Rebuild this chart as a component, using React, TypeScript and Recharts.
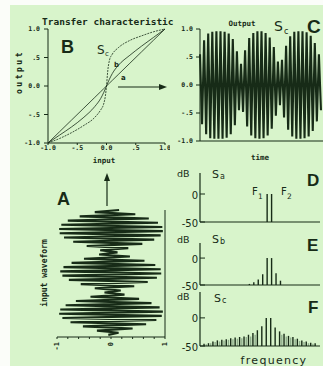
import React from "react";
import { LineChart, Line, BarChart, Bar, Cell, XAxis, YAxis } from "recharts";

const INK = "#172b17";
const FAINT = "#8fae8c";
const PAPER = "#d8f4cb";
const MONO = "'DejaVu Sans Mono', monospace";
const BOLD = "'Liberation Sans', Arial, sans-serif";
const HAND = "'DejaVu Sans', sans-serif";

// B: transfer characteristics, input -> output, for curves a, b, c
const transferIn = [-1, -0.8, -0.6, -0.4, -0.2, -0.1, -0.05, -0.02, 0, 0.02, 0.05, 0.1, 0.2, 0.4, 0.6, 0.8, 1];
const transferA = [-1, -0.8, -0.6, -0.4, -0.2, -0.1, -0.05, -0.02, 0, 0.02, 0.05, 0.1, 0.2, 0.4, 0.6, 0.8, 1];
const transferB = [-1, -0.86, -0.72, -0.56, -0.36, -0.22, -0.12, -0.05, 0, 0.05, 0.12, 0.22, 0.36, 0.54, 0.7, 0.85, 1];
const transferC = [-1, -0.92, -0.82, -0.7, -0.55, -0.42, -0.32, -0.18, 0, 0.25, 0.45, 0.56, 0.67, 0.8, 0.88, 0.95, 1];

// A: two-tone input, successive half-cycle peaks
const inputPeaks = [
  0.15, -0.3, 0.45, -0.58, 0.7, -0.8, 0.87, -0.92, 0.95, -0.96,
  0.96, -0.95, 0.92, -0.87, 0.8, -0.7, 0.58, -0.45, 0.32, -0.2,
  0.12, -0.22, 0.35, -0.5, 0.62, -0.73, 0.82, -0.88, 0.92, -0.94,
  0.93, -0.9, 0.85, -0.78, 0.68, -0.56, 0.43, -0.3, 0.18, -0.12,
  0.25, -0.38, 0.52, -0.65, 0.75, -0.84, 0.9, -0.94, 0.96, -0.96,
  0.94, -0.9, 0.84, -0.75, 0.65, -0.52, 0.4, -0.26, 0.14, -0.05,
];

// C: output S_c, successive half-cycle peaks
const outputPeaks = [
  0.55, -0.7, 0.8, -0.88, 0.92, -0.95, 0.95, -0.96, 0.96, -0.96,
  0.96, -0.96, 0.95, -0.94, 0.92, -0.88, 0.82, -0.72, 0.6, -0.45,
  0.38, -0.48, 0.62, -0.74, 0.84, -0.9, 0.93, -0.95, 0.96, -0.96,
  0.96, -0.95, 0.93, -0.9, 0.85, -0.78, 0.68, -0.55, 0.42, -0.36,
  0.45, -0.58, 0.7, -0.8, 0.87, -0.92, 0.95, -0.96, 0.96, -0.96,
  0.96, -0.95, 0.94, -0.92, 0.88, -0.82, 0.75, -0.65, 0.55, -0.45,
];

// spectra, frequency in units of F2 - F1 (F1 = 15, F2 = 16), level in dB
const saBins = [15, 16];
const saDb = [0, 0];
const sbBins = [11, 12, 13, 14, 15, 16, 17, 18];
const sbDb = [-48, -45, -40, -30, 0, 0, -28, -42];
const scBins = [1, 2, 3, 4, 5, 6, 7, 8, 9, 10, 11, 12, 13, 14, 15, 16, 17, 18, 19, 20, 21, 22, 23, 24, 25, 26];
const scDb = [-46, -45, -42, -40, -39, -38, -36, -35, -34, -33, -30, -27, -22, -15, 0, 0, -17, -24, -28, -32, -34, -37, -40, -42, -44, -45];
const scMinorBins = [1.5, 2.5, 3.5, 4.5, 5.5, 6.5, 7.5, 8.5, 9.5, 10.5, 11.5, 12.5, 18.5, 19.5, 20.5, 21.5, 22.5, 23.5, 24.5, 25.5];
const scMinorDb = [-47, -45, -43, -42, -40, -39, -38, -37, -36, -34, -33, -30, -30, -33, -35, -38, -41, -43, -45, -46];

const unitTicks = [-1, -0.5, 0, 0.5, 1];
const unitTickLabels = ["-1.0", "-.5", "0.0", ".5", "1.0"];
const inputTicks = [-1, -0.8, -0.6, -0.4, -0.2, 0, 0.2, 0.4, 0.6, 0.8, 1];
const inputTickLabels = ["-1", "", "", "", "", "0", "", "", "", "", "1"];
const timeTicks = [15, 30, 45];
const dbTicks = [-50, 0];

const transferRows = transferIn.map((x, i) => ({ x, a: transferA[i], b: transferB[i], c: transferC[i] }));
const inputRows = inputPeaks.map((v, t) => ({ t, v }));
const outputRows = outputPeaks.map((v, t) => ({ t, v }));
const spectrumRows = (bins: number[], db: number[]) => bins.map((k, i) => ({ k, db: db[i] }));
const scRows = [...spectrumRows(scBins, scDb), ...spectrumRows(scMinorBins, scMinorDb)].sort((p, q) => p.k - q.k);

const unitLabel = (v: number) => unitTickLabels[unitTicks.indexOf(v)] ?? "";
const tickStyle = { fontSize: 6.5, fontFamily: MONO, fontWeight: 700, fill: INK };

const InputTick = (props: any) => {
  const { x, y, payload } = props;
  const label = inputTickLabels[inputTicks.indexOf(payload.value)];
  if (!label) return null;
  return (
    <text x={x} y={y + 2} transform={`rotate(-90 ${x} ${y + 2})`} textAnchor="end" dominantBaseline="central" {...tickStyle} fontSize={7}>
      {label}
    </text>
  );
};

const DbTick = (props: any) => {
  const { x, y, payload } = props;
  return (
    <g>
      <line x1={x} x2={x + 5} y1={y} y2={y} stroke={INK} strokeWidth={1} />
      <text x={x - 2} y={y + 1} textAnchor="end" dominantBaseline="central" fontFamily={HAND} fontSize={10} fill={INK}>
        {payload.value}
      </text>
    </g>
  );
};

function Spectrum({ rows, top, height, padTop, maxDb }: { rows: { k: number; db: number }[]; top: number; height: number; padTop: number; maxDb: number }) {
  return (
    <div style={{ position: "absolute", left: 160, top }}>
      <BarChart width={163} height={height + 8} data={rows} margin={{ top: padTop, right: 3, bottom: 8, left: 0 }}>
        <XAxis type="number" dataKey="k" domain={[0, 27]} height={1} tick={false} tickLine={false} stroke={INK} strokeWidth={1.2} />
        <YAxis type="number" domain={[-50, maxDb]} ticks={dbTicks} width={40} tickSize={0} tickMargin={0} tickLine={false} tick={DbTick} interval={0} stroke={INK} strokeWidth={1.2} />
        <Bar dataKey={(d: { db: number }) => [-50, d.db]} barSize={1.4} isAnimationActive={false}>
          {rows.map((r) => (
            <Cell key={r.k} fill={Number.isInteger(r.k) ? INK : FAINT} />
          ))}
        </Bar>
      </BarChart>
    </div>
  );
}

export default function App() {
  return (
    <div style={{ position: "absolute", left: 0, top: 0, width: 323, height: 366, background: "#fbfdf9", overflow: "hidden" }}>
      <div style={{ position: "absolute", left: 10, top: 5, width: 313, height: 361, background: PAPER }} />

      {/* B: transfer characteristic */}
      <div style={{ position: "absolute", left: 0, top: 0 }}>
        <LineChart width={170} height={170} data={transferRows} margin={{ top: 29, right: 5, bottom: 0, left: 0 }}>
          <XAxis type="number" dataKey="x" domain={[-1, 1]} ticks={unitTicks} interval={0} tickFormatter={unitLabel} height={27} tickSize={2} tickMargin={0} stroke={INK} tick={tickStyle} />
          <YAxis type="number" domain={[-1, 1]} ticks={unitTicks} interval={0} tickFormatter={unitLabel} width={48} tickSize={4} tickMargin={4} stroke={INK} tick={tickStyle} />
          <Line type="monotone" dataKey="a" stroke={INK} strokeWidth={0.8} dot={false} isAnimationActive={false} />
          <Line type="monotone" dataKey="b" stroke={INK} strokeWidth={0.8} dot={false} isAnimationActive={false} />
          <Line type="monotone" dataKey="c" stroke={INK} strokeWidth={0.8} strokeDasharray="2 1" dot={false} isAnimationActive={false} />
        </LineChart>
      </div>

      {/* C: output waveform */}
      <div style={{ position: "absolute", left: 160, top: 0 }}>
        <LineChart width={163} height={170} data={outputRows} margin={{ top: 29, right: 0, bottom: 0, left: 0 }}>
          <XAxis type="number" dataKey="t" domain={[0, 60]} height={29} tick={false} tickLine={false} stroke={INK} />
          <YAxis type="number" domain={[-1, 1]} ticks={unitTicks} interval={0} tickFormatter={unitLabel} width={40} tickSize={4} tickMargin={3} stroke={INK} tick={tickStyle} />
          <Line type="linear" dataKey="v" stroke={INK} strokeWidth={2.1} dot={false} isAnimationActive={false} />
        </LineChart>
      </div>

      {/* A: input waveform, time running down */}
      <div style={{ position: "absolute", left: 0, top: 190 }}>
        <LineChart layout="vertical" width={185} height={176} data={inputRows} margin={{ top: 20, right: 20, bottom: 0, left: 57 }}>
          <XAxis type="number" domain={[-1, 1]} ticks={inputTicks} interval={0} height={29} tickSize={2} tickMargin={1} tick={InputTick} stroke={INK} />
          <YAxis type="number" dataKey="t" orientation="right" mirror domain={[0, 60]} ticks={timeTicks} interval={0} width={20} tickSize={3} tick={false} stroke={INK} />
          <Line type="linear" dataKey="v" stroke={INK} strokeWidth={2.1} dot={false} isAnimationActive={false} />
        </LineChart>
      </div>

      {/* D, E, F: spectra */}
      <Spectrum rows={spectrumRows(saBins, saDb)} top={165} height={58} padTop={8} maxDb={37.5} />
      <Spectrum rows={spectrumRows(sbBins, sbDb)} top={236} height={50} padTop={7} maxDb={28} />
      <Spectrum rows={scRows} top={287} height={60} padTop={5} maxDb={46} />

      <svg width={323} height={366} style={{ position: "absolute", left: 0, top: 0, pointerEvents: "none" }}>
        <g fill={INK} fontFamily={MONO} fontWeight={700}>
          <text x={42} y={25} fontSize={9.5}>Transfer characteristic</text>
          <text x={22} y={72} fontSize={8} letterSpacing={2.5} textAnchor="middle" transform="rotate(-90 22 72)">output</text>
          <text x={104} y={163} fontSize={7.5} textAnchor="middle">input</text>
          <text x={242} y={26} fontSize={7.5} textAnchor="middle">Output</text>
          <text x={260} y={160} fontSize={7.5} textAnchor="middle">time</text>
          <text x={47} y={273} fontSize={8} textAnchor="middle" transform="rotate(-90 47 273)">input waveform</text>
        </g>
        <g fill={INK} fontFamily={BOLD} fontWeight={700}>
          <text x={61} y={53} fontSize={18}>B</text>
          <text x={307} y={33} fontSize={19}>C</text>
          <text x={57} y={205} fontSize={18}>A</text>
          <text x={307} y={186} fontSize={17}>D</text>
          <text x={307} y={251} fontSize={17}>E</text>
          <text x={308} y={313} fontSize={17}>F</text>
        </g>
        <g fill={INK} fontFamily={HAND}>
          <text x={97} y={54} fontSize={12}>S</text>
          <text x={105} y={56} fontSize={7}>c</text>
          <text x={114} y={67} fontSize={7} fontWeight={700}>b</text>
          <text x={121} y={80} fontSize={7} fontWeight={700}>a</text>
          <text x={274} y={31} fontSize={14}>S</text>
          <text x={284} y={34} fontSize={8}>c</text>

          <text x={177} y={177} fontSize={9.5}>dB</text>
          <text x={212} y={178} fontSize={11}>S</text>
          <text x={220} y={179} fontSize={8}>a</text>
          <text x={252} y={195} fontSize={10}>F</text>
          <text x={258} y={199} fontSize={7.5}>1</text>
          <text x={281} y={195} fontSize={10}>F</text>
          <text x={287} y={199} fontSize={7.5}>2</text>

          <text x={177} y={243} fontSize={9.5}>dB</text>
          <text x={212} y={243} fontSize={11}>S</text>
          <text x={220} y={244} fontSize={8}>b</text>

          <text x={177} y={300} fontSize={9.5}>dB</text>
          <text x={214} y={302} fontSize={11}>S</text>
          <text x={222} y={303} fontSize={8}>c</text>

          <text x={274} y={364} fontSize={11} letterSpacing={1.3} textAnchor="middle">frequency</text>
        </g>
        {/* transfer -> output arrow */}
        <line x1={118} y1={87} x2={160} y2={87} stroke={INK} strokeWidth={1.2} />
        <polygon points="167,87 159,84 159,90" fill={INK} />
        {/* input -> transfer arrow */}
        <line x1={107} y1={206} x2={107} y2={180} stroke={INK} strokeWidth={1.2} />
        <polygon points="107,173 104,181 110,181" fill={INK} />
      </svg>
    </div>
  );
}
